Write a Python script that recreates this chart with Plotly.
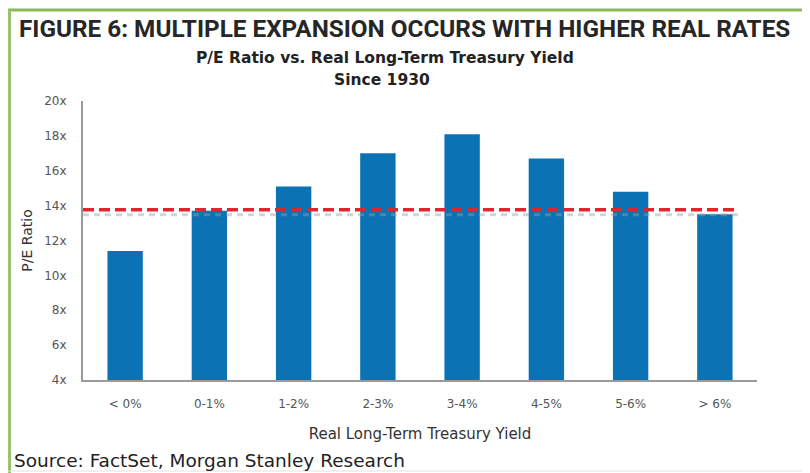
import plotly.graph_objects as go

categories = ["< 0%", "0-1%", "1-2%", "2-3%", "3-4%", "4-5%", "5-6%", "> 6%"]
pe_ratio = [11.4, 13.7, 15.1, 17.0, 18.1, 16.7, 14.8, 13.5]
average_pe = 13.77
y_ticks = [4, 6, 8, 10, 12, 14, 16, 18, 20]
y_tick_labels = [f"{v}x" for v in y_ticks]

title_text = "FIGURE 6: MULTIPLE EXPANSION OCCURS WITH HIGHER REAL RATES"
subtitle_line1 = "P/E Ratio vs. Real Long-Term Treasury Yield"
subtitle_line2 = "Since 1930"
source_text = "Source: FactSet, Morgan Stanley Research"

# page has an 8px body margin; figure is sized to fit the window
W, H = 802, 465
L, R, T, B = 75, 53, 93, 93
PW, PH = W - L - R, H - T - B


def fx(px):
    return (px - 8 - L) / PW


def fy(py):
    return (H - B - (py - 8)) / PH


fig = go.Figure()
fig.add_trace(go.Bar(x=categories, y=pe_ratio,
                     marker=dict(color="#0B72B3", line=dict(width=0))))

# shadow of the average line
fig.add_shape(type="line", xref="paper", x0=0, x1=fx(738), yref="y",
              ysizemode="pixel", yanchor=average_pe, y0=-5, y1=-5,
              line=dict(color="rgba(160,160,160,0.45)", width=3, dash="6px,5px"))
fig.add_shape(type="line", xref="paper", x0=0, x1=fx(738), yref="y",
              y0=average_pe, y1=average_pe,
              line=dict(color="#E3242B", width=3.5, dash="11px,5px"))

# frame
fig.add_shape(type="line", xref="paper", yref="paper", x0=fx(8), x1=fx(810),
              y0=fy(10), y1=fy(10), line=dict(color="#8DB85A", width=3))
fig.add_shape(type="line", xref="paper", yref="paper", x0=fx(9.5), x1=fx(9.5),
              y0=fy(10), y1=fy(473), line=dict(color="#9CC26D", width=3))
fig.add_shape(type="line", xref="paper", yref="paper", x0=fx(8), x1=fx(810),
              y0=fy(471), y1=fy(471), line=dict(color="#E2E2E2", width=1))

fig.add_annotation(text="<b>" + title_text + "</b>", xref="paper", yref="paper",
                   x=fx(17), y=fy(28), xanchor="left", yanchor="middle", showarrow=False,
                   font=dict(family="Roboto", size=24.3, color="#262626"))
fig.add_annotation(text="<b>" + subtitle_line1 + "</b>", xref="paper", yref="paper",
                   x=fx(385), y=fy(58), xanchor="center", yanchor="middle", showarrow=False,
                   font=dict(family="DejaVu Sans", size=15.5, color="#222222"))
fig.add_annotation(text="<b>" + subtitle_line2 + "</b>", xref="paper", yref="paper",
                   x=fx(382), y=fy(80), xanchor="center", yanchor="middle", showarrow=False,
                   font=dict(family="DejaVu Sans", size=15.5, color="#222222"))
fig.add_annotation(text=source_text, xref="paper", yref="paper",
                   x=fx(12), y=fy(460), xanchor="left", yanchor="middle", showarrow=False,
                   font=dict(family="DejaVu Sans", size=18.5, color="#222222"))

fig.update_layout(
    width=W, height=H,
    margin=dict(l=L, r=R, t=T, b=B, autoexpand=False),
    paper_bgcolor="white", plot_bgcolor="white",
    bargap=0.58,
    showlegend=False,
    font=dict(family="DejaVu Sans", color="#555555", size=12),
    xaxis=dict(showline=True, linecolor="#9a9a9a", linewidth=2, ticks="",
               ticklabelstandoff=12, automargin=False,
               title=dict(text="Real Long-Term Treasury Yield", standoff=18,
                          font=dict(size=15, color="#333333")),
               tickfont=dict(size=12, color="#555555")),
    yaxis=dict(range=[4, 20], tickvals=y_ticks, ticktext=y_tick_labels,
               showline=True, linecolor="#9a9a9a", linewidth=2, showgrid=False,
               zeroline=False, ticks="", ticklabelstandoff=12, automargin=False,
               title=dict(text="P/E Ratio", standoff=8,
                          font=dict(size=14, color="#333333")),
               tickfont=dict(size=12, color="#555555")),
)

fig.write_html("out.html")
